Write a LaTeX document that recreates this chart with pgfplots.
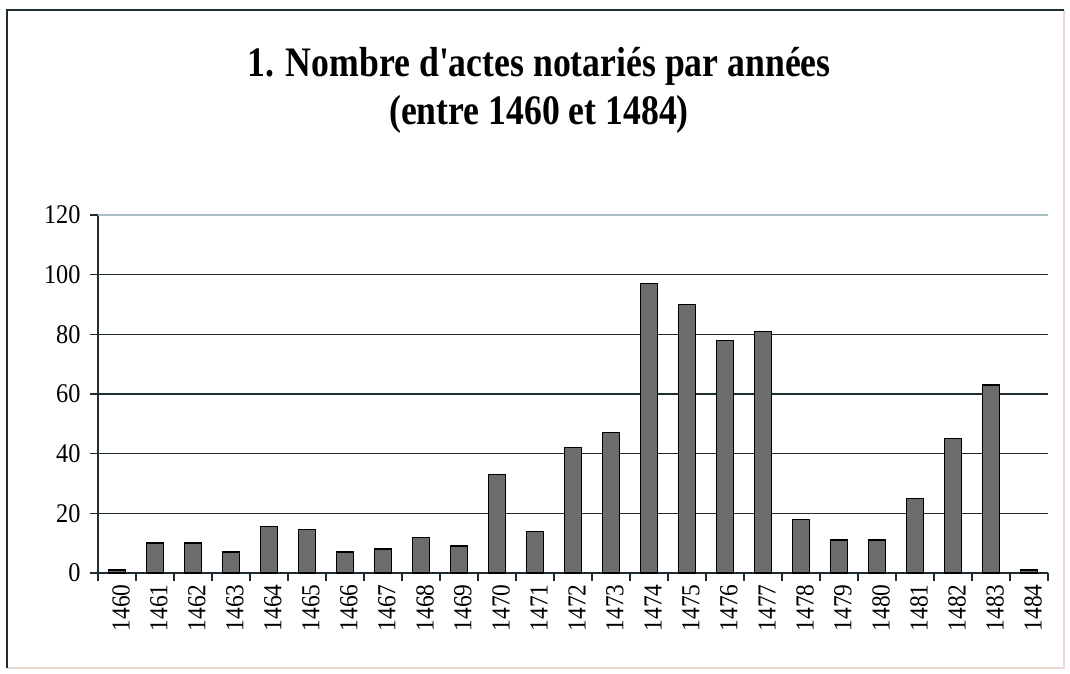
\documentclass[border=0pt]{standalone}
\usepackage{fontspec}
\setmainfont{Liberation Serif}
\newfontfamily\titlefont[FakeStretch=0.85]{Liberation Serif}
\newfontfamily\tickfont[FakeStretch=0.9]{Liberation Serif}
\usepackage{pgfplots}
\pgfplotsset{compat=1.18}
\definecolor{gridc}{RGB}{30,45,50}
\definecolor{lightgrid}{RGB}{170,190,198}
\definecolor{barc}{RGB}{108,108,108}
\definecolor{framelight}{RGB}{235,215,210}
\begin{document}
\begin{tikzpicture}
\path[use as bounding box] (0,0) rectangle (1070pt,673pt);
\draw[framelight, line width=1.2pt] (1064pt,663pt) -- (1064pt,5pt) -- (7pt,5pt);
\draw[gridc, line width=2pt] (7pt,5pt) -- (7pt,663pt) -- (1064pt,663pt);
\node[anchor=base, font=\titlefont\bfseries\fontsize{42}{48}\selectfont] at (539pt,596pt) {1. Nombre d'actes notariés par années};
\node[anchor=base, font=\titlefont\bfseries\fontsize{42}{48}\selectfont] at (539pt,548pt) {(entre 1460 et 1484)};
\begin{axis}[
  at={(98pt,100pt)}, anchor=south west,
  scale only axis, width=950pt, height=358pt,
  xmin=-0.5, xmax=24.5, ymin=0, ymax=120,
  axis x line*=bottom, axis y line*=left,
  axis line style={gridc, line width=1.8pt},
  ybar, bar width=17pt,
  ytick={0,20,...,100},
  extra y ticks={120},
  extra y tick style={grid style={lightgrid, line width=1.5pt}},
  ymajorgrids,
  grid style={gridc, line width=1.6pt},
  tick align=outside,
  major tick length=8pt, minor tick length=8pt,
  tick style={gridc, line width=1.5pt},
  xtick={0,...,24},
  xticklabels={1460,1461,1462,1463,1464,1465,1466,1467,1468,1469,1470,1471,1472,1473,1474,1475,1476,1477,1478,1479,1480,1481,1482,1483,1484},
  minor xtick={-0.5,0.5,...,24.5},
  major x tick style={draw=none},
  xticklabel style={rotate=90, anchor=east, yshift=-4pt, font=\tickfont\fontsize{26}{26}\selectfont},
  yticklabel style={font=\tickfont\fontsize{27}{27}\selectfont, xshift=-6pt},
  /pgf/number format/assume math mode=true,
  clip=false,
]
\addplot[fill=barc, draw=black, line width=1.4pt] coordinates {
(0,1) (1,10) (2,10) (3,7) (4,15.5) (5,14.6) (6,7) (7,8) (8,12) (9,9)
(10,33) (11,14) (12,42) (13,47) (14,97) (15,90) (16,78) (17,81) (18,18) (19,11)
(20,11) (21,25) (22,45) (23,63) (24,1)
};
\end{axis}
\end{tikzpicture}
\end{document}
